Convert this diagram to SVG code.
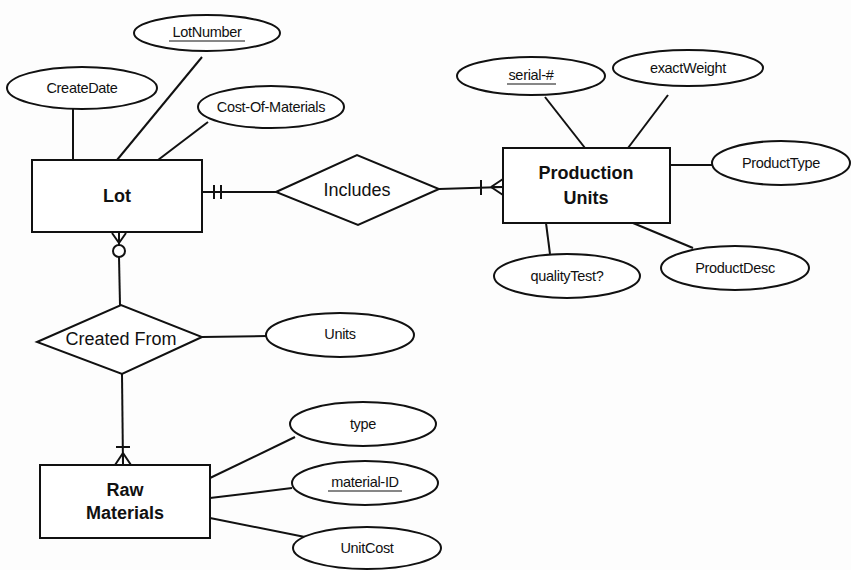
<svg xmlns="http://www.w3.org/2000/svg" width="851" height="570" viewBox="0 0 851 570">
<style>
.s{fill:#fff;stroke:#111;stroke-width:2}
.c{fill:none;stroke:#111;stroke-width:2}
.a{font-family:"Liberation Sans",Arial,sans-serif;font-size:14.5px;fill:#111;text-anchor:middle;dominant-baseline:central;letter-spacing:-0.3px}
.e{font-family:"Liberation Sans",Arial,sans-serif;font-size:18px;font-weight:bold;fill:#111;text-anchor:middle;dominant-baseline:central}
.r{font-family:"Liberation Sans",Arial,sans-serif;font-size:18px;fill:#111;text-anchor:middle;dominant-baseline:central}
.u{stroke:#111;stroke-width:1.2}
</style>
<rect width="851" height="570" fill="#fdfdfd"/>
<g id="connectors">
<path class="c" d="M73,108 L73,160"/>
<path class="c" d="M202,57 L117,160"/>
<path class="c" d="M208,122 L158,160"/>
<path class="c" d="M202,192 L276,192"/>
<path class="c" d="M214,185 L214,199 M221,185 L221,199"/>
<path class="c" d="M439,189 L503,187"/>
<path class="c" d="M481,180 L481,195"/>
<path class="c" d="M491,187 L503,179 M491,187 L503,187 M491,187 L503,195"/>
<path class="c" d="M545,97 L585,148"/>
<path class="c" d="M668,95 L628,148"/>
<path class="c" d="M670,165 L712,165"/>
<path class="c" d="M546,223 L550,254"/>
<path class="c" d="M633,223 L693,248"/>
<path class="c" d="M119,233 L119,245 M112,233 L119,243 M126,233 L119,243"/>
<circle class="c" cx="119" cy="251" r="6"/>
<path class="c" d="M119,257 L120,305"/>
<path class="c" d="M202,337 L267,336"/>
<path class="c" d="M122,374 L123,465"/>
<path class="c" d="M116,447 L130,447"/>
<path class="c" d="M123,453 L115,465 M123,453 L123,465 M123,453 L131,465"/>
<path class="c" d="M210,478 L295,437"/>
<path class="c" d="M210,498 L292,488"/>
<path class="c" d="M210,518 L305,537"/>
</g>
<g id="Lot"><rect class="s" x="32" y="160" width="170" height="72"/><text class="e" x="117" y="196">Lot</text></g>
<g id="LotNumber"><ellipse class="s" cx="207" cy="33" rx="73" ry="18"/><text class="a" x="207" y="32">LotNumber</text><line class="u" x1="169" y1="41" x2="245" y2="41"/></g>
<g id="CreateDate"><ellipse class="s" cx="82" cy="88" rx="75" ry="21"/><text class="a" x="82" y="88">CreateDate</text></g>
<g id="CostOfMaterials"><ellipse class="s" cx="271" cy="107" rx="73" ry="21"/><text class="a" x="271" y="107">Cost-Of-Materials</text></g>
<g id="Includes"><polygon class="s" points="276,192 357,155 439,189 358,225"/><text class="r" x="357" y="190">Includes</text></g>
<g id="ProductionUnits"><rect class="s" x="503" y="148" width="167" height="75"/><text class="e" x="586" y="173">Production</text><text class="e" x="586" y="198">Units</text></g>
<g id="serial"><ellipse class="s" cx="531" cy="76" rx="74" ry="19"/><text class="a" x="531" y="75">serial-#</text><line class="u" x1="507" y1="84" x2="556" y2="84"/></g>
<g id="exactWeight"><ellipse class="s" cx="688" cy="68" rx="75" ry="18"/><text class="a" x="688" y="68">exactWeight</text></g>
<g id="ProductType"><ellipse class="s" cx="781" cy="163" rx="69" ry="22"/><text class="a" x="781" y="163">ProductType</text></g>
<g id="qualityTest"><ellipse class="s" cx="567" cy="276" rx="73" ry="22"/><text class="a" x="567" y="276">qualityTest?</text></g>
<g id="ProductDesc"><ellipse class="s" cx="735" cy="268" rx="74" ry="22"/><text class="a" x="735" y="268">ProductDesc</text></g>
<g id="CreatedFrom"><polygon class="s" points="37,342 121,305 202,337 122,374"/><text class="r" x="121" y="339">Created From</text></g>
<g id="Units"><ellipse class="s" cx="340" cy="335" rx="74" ry="22"/><text class="a" x="340" y="334">Units</text></g>
<g id="RawMaterials"><rect class="s" x="40" y="465" width="170" height="73"/><text class="e" x="125" y="490">Raw</text><text class="e" x="125" y="513">Materials</text></g>
<g id="type"><ellipse class="s" cx="363" cy="424" rx="73" ry="22"/><text class="a" x="363" y="424">type</text></g>
<g id="materialID"><ellipse class="s" cx="365" cy="483" rx="73" ry="22"/><text class="a" x="365" y="482">material-ID</text><line class="u" x1="328" y1="491" x2="402" y2="491"/></g>
<g id="UnitCost"><ellipse class="s" cx="367" cy="548" rx="74" ry="21"/><text class="a" x="367" y="548">UnitCost</text></g>
</svg>
